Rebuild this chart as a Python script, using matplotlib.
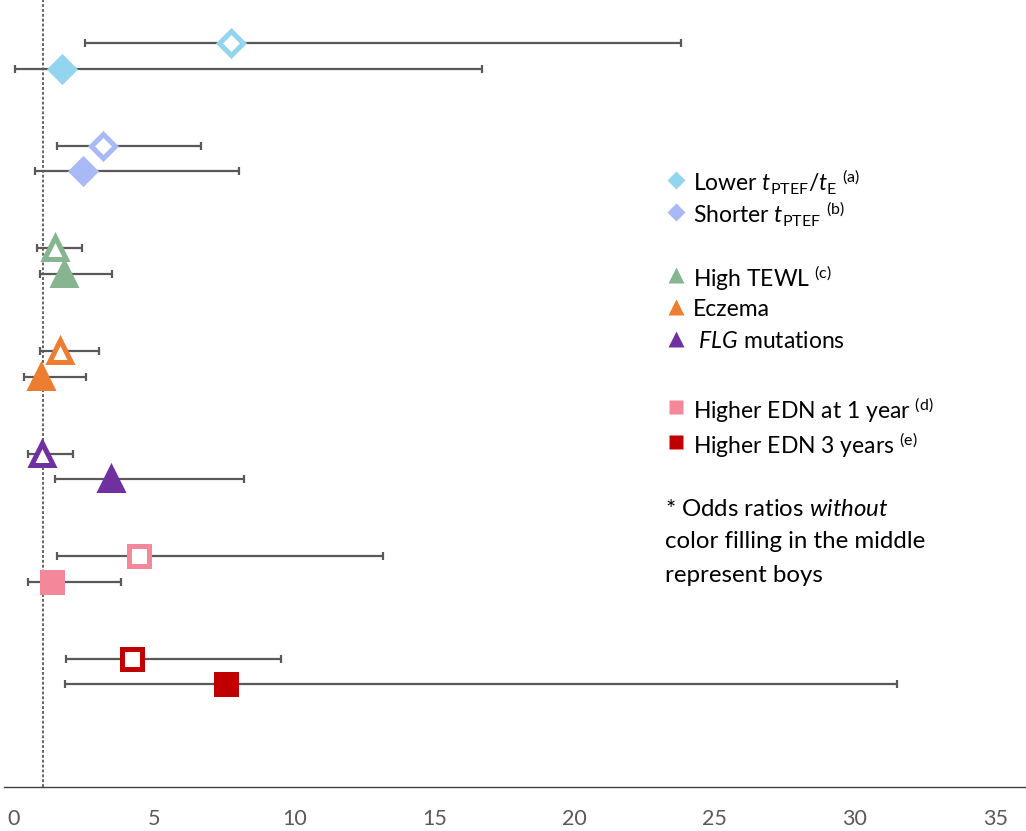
import numpy as np
import matplotlib.pyplot as plt
from matplotlib.lines import Line2D

plt.rcParams['font.family'] = ['Lato', 'DejaVu Sans']
plt.rcParams['mathtext.fontset'] = 'custom'
plt.rcParams['mathtext.rm'] = 'Lato'
plt.rcParams['mathtext.it'] = 'Lato:italic'
plt.rcParams['mathtext.bf'] = 'Lato:bold'

# odds ratios with 95% CI; boys (open markers) and girls (filled markers)
labels = [r'Lower $\mathit{t}_{\mathrm{PTEF}}/\mathit{t}_{\mathrm{E}}$ $^{\mathrm{(a)}}$',
          r'Shorter $\mathit{t}_{\mathrm{PTEF}}$ $^{\mathrm{(b)}}$',
          r'High TEWL $^{\mathrm{(c)}}$',
          'Eczema',
          r' $\mathit{FLG}$ mutations',
          r'Higher EDN at 1 year $^{\mathrm{(d)}}$',
          r'Higher EDN 3 years $^{\mathrm{(e)}}$']
colors = ['#93D4EE', '#A9B9F5', '#86B58F', '#ED7D31', '#7030A0', '#F4879A', '#C00000']
shapes = ['D', 'D', '^', '^', '^', 's', 's']

boys_or = [7.74, 3.18, 1.46, 1.64, 1.00, 4.46, 4.21]
boys_lo = [2.53, 1.53, 0.82, 0.93, 0.50, 1.53, 1.86]
boys_hi = [23.8, 6.67, 2.43, 3.03, 2.10, 13.16, 9.53]
girls_or = [1.71, 2.46, 1.78, 0.96, 3.46, 1.36, 7.56]
girls_lo = [0.04, 0.75, 0.93, 0.36, 1.46, 0.50, 1.82]
girls_hi = [16.7, 8.03, 3.50, 2.57, 8.20, 3.82, 31.5]

msize = {'D': 12.2, '^': 15.5, 's': 13.8}
lsize = {'D': 8.7, '^': 12, 's': 10}
# legend row centres (pixels from top)
leg_y = [180, 212, 275, 307, 339, 407, 442]

W, H = 1026, 831
fig = plt.figure(figsize=(W / 100, H / 100), dpi=100)
ax = fig.add_axes([4 / W, 44 / H, 1022 / W, 787 / H])

ax.axvline(1.04, color='#595959', lw=1.3, ls=(0, (1.6, 1.1)), zorder=1)

for i in range(len(labels)):
    yb = 29 - 4 * i
    yg = 28 - 4 * i
    for y, v, lo, hi, face in [(yb, boys_or[i], boys_lo[i], boys_hi[i], 'white'),
                               (yg, girls_or[i], girls_lo[i], girls_hi[i], colors[i])]:
        ax.errorbar([v], [y], xerr=[[v - lo], [hi - v]], fmt='none', ecolor='#595959',
                    elinewidth=1.6, capsize=3, capthick=1.6, zorder=2)
        ax.plot([v], [y], marker=shapes[i], ms=msize[shapes[i]], mfc=face, mec=colors[i],
                mew=3.6, ls='none', zorder=3, solid_joinstyle='round')

ax.set_xlim(-0.357, 36.1)
ax.set_ylim(0, 30.68)
ax.set_xticks(np.arange(0, 36, 5))
ax.set_yticks([])
ax.tick_params(axis='x', length=0, pad=16, labelsize=15.5, labelcolor='#595959')
for s in ['top', 'right', 'left']:
    ax.spines[s].set_visible(False)
ax.spines['bottom'].set_color('#404040')
ax.spines['bottom'].set_linewidth(1)

# legend drawn by hand so that row spacing matches
for i in range(len(labels)):
    fy = 1 - leg_y[i] / H
    fig.add_artist(Line2D([676 / W], [fy], marker=shapes[i], ls='none', ms=lsize[shapes[i]],
                          mfc=colors[i], mec='none', transform=fig.transFigure))
    fig.text(693 / W, fy, labels[i], fontsize=16.5, va='center_baseline', ha='left')

note = [r'* Odds ratios $\mathit{without}$', 'color filling in the middle', 'represent boys']
for k, line in enumerate(note):
    fig.text(665 / W, 1 - (507 + 33 * k) / H, line, fontsize=17.3, va='center_baseline', ha='left')

fig.savefig('out.png', dpi=100)
